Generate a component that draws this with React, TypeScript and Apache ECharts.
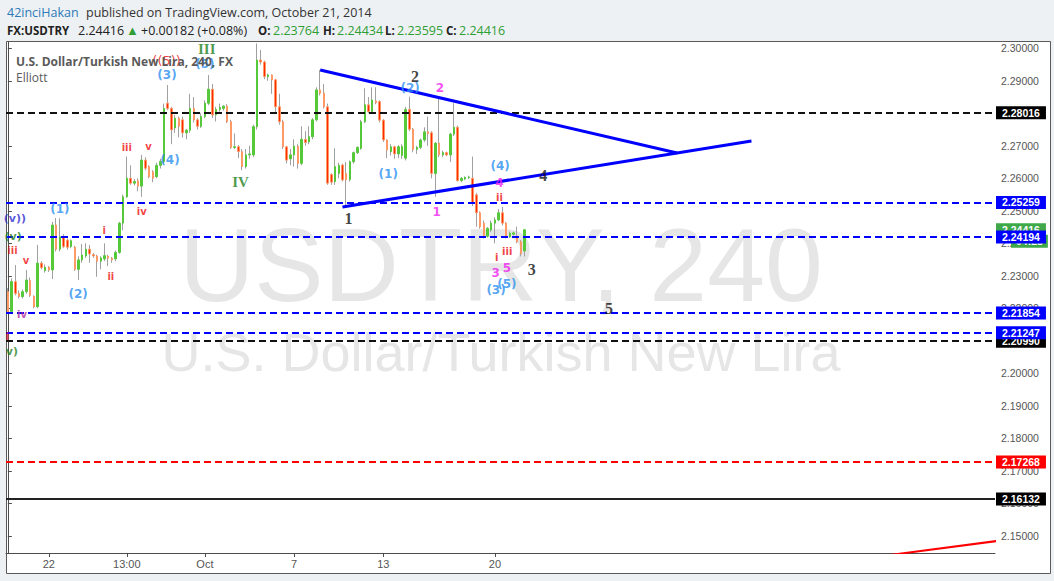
import React, { useEffect, useRef } from "react";
import * as echarts from "echarts";

// [open, high, low, close] for each 4h bar
const candles: number[][] = [
  [2.2251, 2.2262, 2.2185, 2.219], [2.219, 2.2292, 2.2185, 2.2282], [2.2282, 2.2333, 2.224, 2.2246],
  [2.2246, 2.2255, 2.223, 2.2236], [2.2236, 2.2258, 2.223, 2.2251], [2.2251, 2.2318, 2.2245, 2.2287],
  [2.2285, 2.2295, 2.2235, 2.224], [2.2236, 2.224, 2.22, 2.2205], [2.2205, 2.2395, 2.22, 2.2339],
  [2.2339, 2.2345, 2.232, 2.2325], [2.2316, 2.2335, 2.231, 2.2326], [2.2326, 2.233, 2.2312, 2.2318],
  [2.2318, 2.2466, 2.229, 2.2456], [2.2456, 2.2478, 2.2375, 2.2382], [2.2382, 2.2477, 2.2375, 2.242],
  [2.242, 2.2428, 2.2385, 2.239], [2.241, 2.2415, 2.238, 2.2388], [2.239, 2.2412, 2.2385, 2.2408],
  [2.2388, 2.2392, 2.2315, 2.232], [2.232, 2.236, 2.2287, 2.2349], [2.2349, 2.2398, 2.234, 2.2364],
  [2.2361, 2.24, 2.2355, 2.2382], [2.2382, 2.2395, 2.234, 2.2367], [2.2365, 2.237, 2.2355, 2.2361],
  [2.2361, 2.2365, 2.2297, 2.2345], [2.2345, 2.236, 2.232, 2.2355], [2.2352, 2.24, 2.2345, 2.2362],
  [2.236, 2.2365, 2.233, 2.2354], [2.2354, 2.2358, 2.234, 2.2349], [2.2352, 2.2378, 2.2345, 2.2372],
  [2.2372, 2.2466, 2.2368, 2.2462], [2.2462, 2.255, 2.244, 2.2543], [2.2543, 2.2667, 2.254, 2.26],
  [2.26, 2.264, 2.258, 2.2585], [2.2585, 2.2598, 2.2578, 2.259], [2.2592, 2.26, 2.256, 2.2576],
  [2.2576, 2.2672, 2.2543, 2.2656], [2.2656, 2.2665, 2.2625, 2.2631], [2.2636, 2.264, 2.26, 2.2605],
  [2.262, 2.2625, 2.2588, 2.26], [2.2605, 2.2648, 2.26, 2.264], [2.264, 2.266, 2.263, 2.2652],
  [2.2652, 2.283, 2.2645, 2.2815], [2.2831, 2.2887, 2.281, 2.2815], [2.2815, 2.282, 2.2705, 2.2749],
  [2.2755, 2.2795, 2.274, 2.2785], [2.2785, 2.279, 2.2726, 2.276], [2.278, 2.279, 2.2725, 2.274],
  [2.274, 2.2752, 2.272, 2.2748], [2.2748, 2.286, 2.274, 2.2815], [2.2815, 2.285, 2.2772, 2.278],
  [2.278, 2.2785, 2.275, 2.276], [2.276, 2.28, 2.2755, 2.279], [2.279, 2.284, 2.2785, 2.2831],
  [2.2831, 2.2918, 2.2825, 2.2874], [2.2874, 2.289, 2.2785, 2.2795], [2.2795, 2.282, 2.2775, 2.2812],
  [2.2812, 2.283, 2.2805, 2.2818], [2.2815, 2.2825, 2.2808, 2.2822], [2.2822, 2.2828, 2.277, 2.2774],
  [2.2774, 2.278, 2.269, 2.2695], [2.2695, 2.2738, 2.269, 2.2697], [2.2697, 2.2702, 2.2662, 2.2682],
  [2.2682, 2.269, 2.2625, 2.2636], [2.2636, 2.269, 2.263, 2.2672], [2.2672, 2.27, 2.266, 2.2675],
  [2.2672, 2.2765, 2.2665, 2.2759], [2.2759, 2.3015, 2.275, 2.2964], [2.2964, 2.2995, 2.295, 2.2958],
  [2.2958, 2.2962, 2.2905, 2.2913], [2.2913, 2.2922, 2.29, 2.2918], [2.2918, 2.292, 2.286, 2.2903],
  [2.2903, 2.2906, 2.28, 2.282], [2.282, 2.286, 2.2765, 2.2774], [2.2774, 2.278, 2.269, 2.2697],
  [2.2697, 2.27, 2.2646, 2.2656], [2.266, 2.269, 2.264, 2.2672], [2.2672, 2.272, 2.2636, 2.2699],
  [2.2699, 2.2705, 2.263, 2.2646], [2.2646, 2.276, 2.264, 2.272], [2.272, 2.2745, 2.27, 2.271],
  [2.2712, 2.276, 2.2705, 2.2728], [2.2728, 2.2785, 2.272, 2.278], [2.278, 2.288, 2.2775, 2.2872],
  [2.2872, 2.2933, 2.2855, 2.2862], [2.2862, 2.289, 2.2815, 2.282], [2.282, 2.283, 2.258, 2.2585],
  [2.2612, 2.2615, 2.258, 2.2588], [2.259, 2.2692, 2.258, 2.2636], [2.2615, 2.2648, 2.26, 2.264],
  [2.2641, 2.2645, 2.259, 2.2595], [2.2615, 2.265, 2.2512, 2.2596], [2.2596, 2.2655, 2.259, 2.2651],
  [2.2651, 2.2682, 2.2645, 2.2679], [2.2679, 2.2698, 2.2675, 2.2695], [2.2692, 2.278, 2.2688, 2.2774],
  [2.2774, 2.2877, 2.277, 2.2826], [2.2826, 2.285, 2.28, 2.2805], [2.2805, 2.288, 2.28, 2.2841],
  [2.2838, 2.288, 2.2828, 2.2833], [2.2836, 2.284, 2.2772, 2.2779], [2.2779, 2.2782, 2.2712, 2.2718],
  [2.2718, 2.272, 2.2662, 2.2687], [2.2682, 2.2705, 2.267, 2.2697], [2.2697, 2.27, 2.266, 2.2675],
  [2.2675, 2.2702, 2.2662, 2.2697], [2.267, 2.2705, 2.266, 2.2698], [2.2662, 2.282, 2.2655, 2.2812],
  [2.2812, 2.2851, 2.2745, 2.2751], [2.2751, 2.2755, 2.268, 2.2689], [2.2689, 2.27, 2.2675, 2.2695],
  [2.2695, 2.2722, 2.269, 2.2718], [2.2718, 2.2757, 2.2712, 2.2743], [2.2743, 2.279, 2.27, 2.2738],
  [2.274, 2.2745, 2.26, 2.2615], [2.2615, 2.2712, 2.2543, 2.2708], [2.2708, 2.2846, 2.2665, 2.2672],
  [2.2672, 2.2685, 2.2665, 2.2679], [2.2679, 2.2682, 2.2668, 2.2672], [2.2672, 2.274, 2.265, 2.2736],
  [2.2736, 2.2831, 2.273, 2.2757], [2.2757, 2.2762, 2.259, 2.2593], [2.2593, 2.2604, 2.2588, 2.26],
  [2.2598, 2.2606, 2.2594, 2.2603], [2.2602, 2.2608, 2.2598, 2.2604], [2.26, 2.2667, 2.2515, 2.2523],
  [2.2549, 2.2555, 2.2451, 2.2494], [2.2494, 2.2498, 2.2445, 2.2451], [2.2462, 2.247, 2.2415, 2.2422],
  [2.2422, 2.245, 2.2418, 2.2446], [2.2441, 2.247, 2.2435, 2.2462], [2.2462, 2.248, 2.24, 2.2472],
  [2.2472, 2.2505, 2.2468, 2.2494], [2.2494, 2.2512, 2.2455, 2.2462], [2.2462, 2.2466, 2.2415, 2.242],
  [2.242, 2.2436, 2.2416, 2.2431], [2.2428, 2.2436, 2.2424, 2.2432], [2.2422, 2.2451, 2.24, 2.2405],
  [2.2405, 2.241, 2.236, 2.2369], [2.23764, 2.24434, 2.23595, 2.24416],
];

const slotCount = 266; // bars incl. empty future space
const tickIndex = [11, 32, 53, 77, 101, 131];
const tickText = ["22", "13:00", "Oct", "7", "13", "20"];
const priceTicks = [2.15, 2.16, 2.17, 2.18, 2.19, 2.2, 2.21, 2.22, 2.23, 2.24, 2.25, 2.26, 2.27, 2.28, 2.29, 2.3];
const yMin = 2.14471;
const yMax = 2.30194;

const lastPrice = 2.24416;
const countdownText = "04:28";
const countdownLevel = 2.24066; // countdown tag sits just under the last-price tag
const blackDashedLevels = [2.28016, 2.2099];
const redDashedLevels = [2.17268];
const blackSolidLevels = [2.16132];
const blueDashedLevels = [2.25259, 2.24194, 2.21854, 2.21247];

const upperTrend = [[84, 2.2933], [180, 2.2678]];
const lowerTrend = [[90, 2.2512], [200, 2.2715]];
const redTrend = [[236, 2.1439], [266, 2.1484]];

// wave labels: [text, bar position, price]
const minuteWaves: [string, number, number][] = [
  ["(1)", 14.0, 2.2506], ["(2)", 18.9, 2.2244], ["(3)", 42.8, 2.2918], ["(4)", 43.6, 2.2656],
  ["(5)", 53.0, 2.2952], ["(1)", 102.3, 2.2613], ["(2)", 108.2, 2.2877], ["(4)", 132.4, 2.2638],
  ["(3)", 131.3, 2.2256], ["(5)", 134.2, 2.2274],
];
const minuetteWaves: [string, number, number][] = [
  ["1", 115.3, 2.2497], ["2", 116.2, 2.2877], ["4", 132.2, 2.2586], ["3", 131.2, 2.2308], ["5", 134.2, 2.2323],
];
const subWaves: [string, number, number][] = [
  ["iii", 1.25, 2.2379], ["v", 4.9, 2.2346], ["i", 25.9, 2.2438], ["ii", 27.7, 2.2299],
  ["iii", 32.0, 2.2696], ["v", 37.8, 2.2697], ["iv", 36.0, 2.2497], ["ii", 132.2, 2.2542],
  ["i", 131.5, 2.2357], ["iii", 134.3, 2.2374], ["i", -0.2, 2.2112],
];
const subWavesViolet: [string, number, number][] = [["iv", 3.8, 2.2182]];
const minorWaves: [string, number, number][] = [["((5))", 42.7, 2.2964]];
const blueVioletWaves: [string, number, number][] = [["(v))", 1.9, 2.2475]];
const greenMinorWaves: [string, number, number][] = [["(v)", 1.4, 2.2422], ["v)", 1.1, 2.2066]];
const primaryWaves: [string, number, number][] = [
  ["1", 91.6, 2.2477], ["2", 109.5, 2.2913], ["4", 144.0, 2.261], ["3", 140.9, 2.2318], ["5", 161.7, 2.22],
];
const intermediateWaves: [string, number, number][] = [["III", 53.5, 2.2998], ["IV", 62.6, 2.259]];

const headerUser = "42inciHakan";
const headerPublished = "published on TradingView.com, October 21, 2014";
const quoteParts = ["FX:USDTRY", "2.24416", "+0.00182 (+0.08%)", "2.23764", "2.24434", "2.23595", "2.24416"];
const symbolTitle = "U.S. Dollar/Turkish New Lira, 240, FX";
const studyTitle = "Elliott";
const watermark1 = "USDTRY, 240";
const watermark2 = "U.S. Dollar/Turkish New Lira";

const SANS = '"Open Sans", "Noto Sans", sans-serif';
const AX = '"Liberation Sans Narrow", "Liberation Sans", Arial, sans-serif';
const LAB = '"DejaVu Sans", Verdana, sans-serif';
const SERIF = '"Liberation Serif", "Times New Roman", serif';
const ARIAL = '"Liberation Sans", Arial, sans-serif';

function labelSeries(items: [string, number, number][], style: any) {
  return {
    type: "scatter",
    xAxisIndex: 1,
    yAxisIndex: 0,
    symbolSize: 1,
    silent: true,
    z: 8,
    itemStyle: { color: "rgba(0,0,0,0)" },
    data: items.map(([t, x, y]) => ({ value: [x, y], name: t })),
    label: { show: true, position: "inside", formatter: "{b}", align: "center", verticalAlign: "middle", ...style },
  };
}

function levelLine(value: number, color: string, type: any, boxColor: string, width = 2, extra: any = {}) {
  return {
    yAxis: value,
    lineStyle: { color, type, width },
    label: {
      show: true,
      position: "end",
      distance: 1,
      formatter: value.toFixed(5),
      color: "#fff",
      fontWeight: "bold",
      fontSize: 10.5,
      fontFamily: ARIAL,
      backgroundColor: boxColor,
      padding: [2, 6, 1, 6],
      lineHeight: 10,
      ...extra,
    },
  };
}

export default function App() {
  const ref = useRef<HTMLDivElement>(null);
  useEffect(() => {
    document.body.style.margin = "0";
    document.body.style.background = "#eef1f4";
    const chart = echarts.init(ref.current!, undefined, { renderer: "svg" });
    const categories = Array.from({ length: slotCount }, (_, i) => {
      const k = tickIndex.indexOf(i);
      return k >= 0 ? tickText[k] : "";
    });
    const wickData = candles.map(([o, h, l, c]) => [o, c, l, h]);
    const bodyData = candles.map(([o, _h, _l, c]) => [o, c, Math.min(o, c), Math.max(o, c)]);
    const dash = [7, 4];
    const markData = [
      levelLine(countdownLevel, "rgba(0,0,0,0)", "solid", "#3fa94a", 0, {
        formatter: countdownText,
        distance: 16,
        padding: [2, 5, 1, 5],
      }),
      levelLine(lastPrice, "rgba(0,0,0,0)", "solid", "#3fa94a", 0),
      ...blackDashedLevels.map((v) => levelLine(v, "#111", dash, "#000")),
      ...redDashedLevels.map((v) => levelLine(v, "#ff0000", dash, "#ff0000")),
      ...blackSolidLevels.map((v) => levelLine(v, "#222", "solid", "#000")),
      ...blueDashedLevels.map((v) => levelLine(v, "#0000ff", dash, "#0000ff")),
    ];

    const hdr = (text: string, x: number, y: number, fill: string, weight = "normal", size = 12.5) => ({
      type: "text",
      x,
      y,
      silent: true,
      z: 10,
      style: { text, fill, fontSize: size, fontWeight: weight, fontFamily: SANS, align: "left", verticalAlign: "middle" },
    });
    const green = "#2e9e35";

    const option: any = {
      animation: false,
      backgroundColor: "#eef1f4",
      grid: { left: 6, top: 42, width: 989, height: 511, containLabel: false },
      xAxis: [
        {
          type: "category",
          data: categories,
          boundaryGap: true,
          axisLine: { onZero: false, lineStyle: { color: "#4d4d4d", width: 1 } },
          axisTick: {
            show: true,
            alignWithLabel: true,
            length: 4,
            interval: (i: number) => tickIndex.includes(i),
            lineStyle: { color: "#4d4d4d" },
          },
          axisLabel: { interval: 0, color: "#555", fontSize: 11, fontFamily: AX, margin: 5 },
          splitLine: { show: false },
        },
        { type: "value", min: -0.5, max: slotCount - 0.5, show: false },
      ],
      yAxis: {
        type: "value",
        position: "right",
        min: yMin,
        max: yMax,
        scale: true,
        splitLine: { show: false },
        axisLine: { show: true, lineStyle: { color: "#4d4d4d", width: 1 } },
        axisTick: { show: true, length: 4, customValues: priceTicks, lineStyle: { color: "#4d4d4d" } },
        axisLabel: {
          customValues: priceTicks,
          formatter: (v: number) => v.toFixed(5),
          color: "#555",
          fontSize: 10.5,
          fontFamily: ARIAL,
          margin: 6,
        },
      },
      graphic: [
        {
          type: "rect",
          z: -1,
          silent: true,
          shape: { x: 6.5, y: 41.5, width: 1044, height: 532 },
          style: { fill: "#ffffff", stroke: "#5a5a5a", lineWidth: 1 },
        },
        {
          type: "text",
          x: 501,
          y: 265,
          silent: true,
          style: { text: watermark1, fill: "#e6e6e6", fontSize: 104, fontFamily: ARIAL, align: "center", verticalAlign: "middle" },
        },
        {
          type: "text",
          x: 501,
          y: 352,
          silent: true,
          style: { text: watermark2, fill: "#e6e6e6", fontSize: 54, fontFamily: ARIAL, align: "center", verticalAlign: "middle" },
        },
        hdr(headerUser, 7, 12, "#2d7ab8"),
        hdr(headerPublished, 86, 12, "#333"),
        hdr(quoteParts[0], 7, 30, "#222", "bold", 11.5),
        hdr(quoteParts[1], 78, 30, "#222"),
        hdr("▲", 126, 30, green, "normal", 13),
        hdr(quoteParts[2], 141, 30, "#222"),
        hdr("O:", 258, 30, "#222", "bold", 11.5),
        hdr(quoteParts[3], 273, 30, green),
        hdr("H:", 323, 30, "#222", "bold", 11.5),
        hdr(quoteParts[4], 337, 30, green),
        hdr("L:", 385, 30, "#222", "bold", 11.5),
        hdr(quoteParts[5], 397, 30, green),
        hdr("C:", 446, 30, "#222", "bold", 11.5),
        hdr(quoteParts[6], 459, 30, green),
        hdr(symbolTitle, 16, 61, "#5a5a5a", "bold", 12),
        hdr(studyTitle, 16, 77, "#5a5a5a", "normal", 12),
      ],
      series: [
        {
          type: "candlestick",
          xAxisIndex: 0,
          yAxisIndex: 0,
          data: wickData,
          barWidth: 1,
          silent: true,
          z: 3,
          itemStyle: { color: "#a0a0a0", color0: "#a0a0a0", borderColor: "#a0a0a0", borderColor0: "#a0a0a0", borderWidth: 1 },
        },
        {
          type: "candlestick",
          xAxisIndex: 0,
          yAxisIndex: 0,
          data: bodyData,
          barWidth: 2,
          silent: true,
          z: 4,
          itemStyle: { color: "#55c93a", color0: "#ff2a00", borderColor: "#55c93a", borderColor0: "#ff9a66", borderWidth: 1 },
          markLine: { silent: true, precision: 5, symbol: ["none", "none"], animation: false, data: markData },
        },
        {
          type: "line",
          xAxisIndex: 1,
          yAxisIndex: 0,
          data: upperTrend,
          symbol: "none",
          silent: true,
          z: 6,
          lineStyle: { color: "#0000ff", width: 3 },
        },
        {
          type: "line",
          xAxisIndex: 1,
          yAxisIndex: 0,
          data: lowerTrend,
          symbol: "none",
          silent: true,
          z: 6,
          lineStyle: { color: "#0000ff", width: 3 },
        },
        {
          type: "line",
          xAxisIndex: 1,
          yAxisIndex: 0,
          data: redTrend,
          symbol: "none",
          silent: true,
          z: 6,
          lineStyle: { color: "#ff0000", width: 2 },
        },
        labelSeries(minuteWaves, { color: "#2b8ff0", fontFamily: LAB, fontWeight: "bold", fontSize: 12 }),
        labelSeries(minuetteWaves, { color: "#ee22ee", fontFamily: LAB, fontWeight: "bold", fontSize: 12 }),
        labelSeries(subWaves, { color: "#ee1111", fontFamily: LAB, fontWeight: "bold", fontSize: 10 }),
        labelSeries(subWavesViolet, { color: "#b02a9a", fontFamily: LAB, fontWeight: "bold", fontSize: 10 }),
        labelSeries(minorWaves, { color: "#ee1111", fontFamily: LAB, fontSize: 13 }),
        labelSeries(blueVioletWaves, { color: "#2b2bd0", fontFamily: LAB, fontWeight: "bold", fontSize: 11 }),
        labelSeries(greenMinorWaves, { color: "#1f7f1f", fontFamily: LAB, fontWeight: "bold", fontSize: 11 }),
        labelSeries(primaryWaves, { color: "#111", fontFamily: SERIF, fontWeight: "bold", fontSize: 16 }),
        labelSeries(intermediateWaves, { color: "#1f7f1f", fontFamily: SERIF, fontWeight: "bold", fontSize: 15 }),
      ],
    };
    chart.setOption(option);
    return () => chart.dispose();
  }, []);
  return <div ref={ref} style={{ width: 1054, height: 581 }} />;
}
